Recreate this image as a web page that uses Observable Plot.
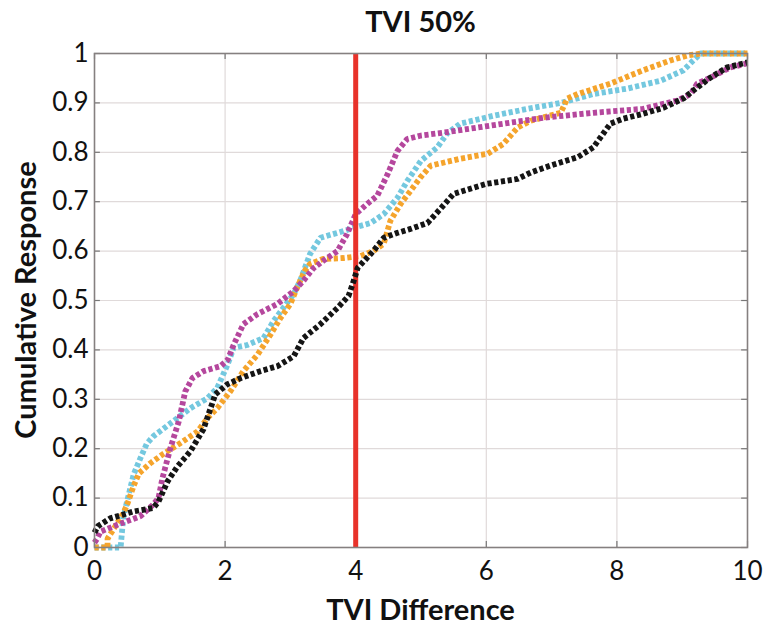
<!DOCTYPE html>
<html>
<head>
<meta charset="utf-8">
<script src="https://cdn.jsdelivr.net/npm/d3@7"></script>
<script src="https://cdn.jsdelivr.net/npm/@observablehq/plot@0.6"></script>
<style>
  html, body { margin: 0; padding: 0; background: #fff; }
  #wrap { position: relative; width: 767px; height: 628px; font-family: Lato, "Open Sans", sans-serif; }
  #title { position: absolute; left: 94px; width: 653px; top: 2px; text-align: center; font-weight: 700; font-size: 29px; line-height: 38px; color: #111; }
  #xlabel { position: absolute; left: 94px; width: 653px; top: 590px; text-align: center; font-weight: 700; font-size: 29px; line-height: 38px; color: #111; }
  #ylabel { position: absolute; left: 25px; top: 300px; transform: translate(-50%, -50%) rotate(-90deg); white-space: nowrap; font-weight: 700; font-size: 29px; line-height: 38px; color: #111; }
  #chart { position: absolute; left: 0; top: 0; }
</style>
</head>
<body>
<div id="wrap">
  <div id="chart"></div>
  <div id="title">TVI 50%</div>
  <div id="xlabel">TVI Difference</div>
  <div id="ylabel">Cumulative Response</div>
</div>
<script>
const xTicks = [0, 2, 4, 6, 8, 10];
const yTicks = [0, 0.1, 0.2, 0.3, 0.4, 0.5, 0.6, 0.7, 0.8, 0.9, 1];
const threshold = 4;

const blackX = [0, 0.05, 0.24, 0.6, 0.9, 0.98, 1.12, 1.27, 1.47, 1.67, 1.85, 2.03, 2.24, 2.54, 2.8, 3.05, 3.2, 3.46, 3.72, 3.89, 3.97, 4.03, 4.27, 4.43, 4.64, 4.84, 5.1, 5.3, 5.5, 6.0, 6.48, 6.68, 6.98, 7.4, 7.64, 7.9, 8.1, 8.4, 8.71, 9.02, 9.17, 9.43, 9.69, 10];
const blackY = [0.03, 0.043, 0.059, 0.073, 0.08, 0.093, 0.134, 0.164, 0.195, 0.24, 0.31, 0.33, 0.343, 0.357, 0.367, 0.387, 0.424, 0.452, 0.485, 0.509, 0.54, 0.566, 0.60, 0.627, 0.637, 0.645, 0.657, 0.686, 0.716, 0.736, 0.746, 0.759, 0.773, 0.79, 0.81, 0.858, 0.868, 0.878, 0.89, 0.909, 0.925, 0.951, 0.972, 0.982];

const magentaX = [0, 0.04, 0.09, 0.35, 0.7, 0.9, 0.98, 1.04, 1.16, 1.29, 1.39, 1.5, 1.67, 1.93, 2.04, 2.13, 2.28, 2.49, 2.8, 3.05, 3.2, 3.35, 3.5, 3.72, 3.87, 4.0, 4.18, 4.33, 4.49, 4.64, 4.79, 5.0, 5.35, 5.86, 6.37, 6.88, 7.64, 8.4, 8.93, 9.13, 9.23, 9.43, 9.74, 10];
const magentaY = [0.01, 0.018, 0.032, 0.046, 0.063, 0.087, 0.1, 0.14, 0.2, 0.255, 0.316, 0.343, 0.357, 0.367, 0.38, 0.41, 0.452, 0.472, 0.493, 0.519, 0.54, 0.565, 0.58, 0.6, 0.635, 0.675, 0.696, 0.712, 0.756, 0.803, 0.827, 0.834, 0.84, 0.85, 0.86, 0.87, 0.88, 0.888, 0.905, 0.918, 0.939, 0.951, 0.972, 0.98];

const cyanX = [0, 0.4, 0.42, 0.44, 0.5, 0.6, 0.7, 0.8, 0.9, 1.06, 1.27, 1.47, 1.73, 1.88, 2.04, 2.13, 2.34, 2.59, 2.74, 2.88, 3.05, 3.15, 3.3, 3.46, 3.72, 3.97, 4.23, 4.43, 4.64, 4.79, 5.0, 5.25, 5.4, 5.6, 6.11, 6.63, 7.14, 7.64, 8.16, 8.67, 9.02, 9.17, 9.28, 10];
const cyanY = [0, 0, 0.03, 0.06, 0.094, 0.148, 0.18, 0.21, 0.225, 0.241, 0.262, 0.282, 0.302, 0.323, 0.371, 0.404, 0.41, 0.424, 0.458, 0.483, 0.513, 0.54, 0.594, 0.627, 0.637, 0.647, 0.657, 0.675, 0.708, 0.742, 0.783, 0.81, 0.838, 0.858, 0.874, 0.888, 0.9, 0.918, 0.929, 0.945, 0.966, 0.986, 1, 1];

const orangeX = [0, 0.2, 0.2, 0.3, 0.44, 0.5, 0.6, 0.68, 0.85, 1.06, 1.3, 1.58, 1.73, 1.88, 2.08, 2.28, 2.5, 2.7, 2.85, 3.0, 3.08, 3.15, 3.22, 3.3, 3.5, 3.81, 4.07, 4.27, 4.43, 4.53, 4.69, 4.84, 4.99, 5.15, 5.6, 6.02, 6.26, 6.48, 6.68, 7.14, 7.24, 7.4, 7.9, 8.4, 8.82, 9.08, 9.3, 10];
const orangeY = [0, 0, 0.018, 0.039, 0.069, 0.087, 0.125, 0.15, 0.17, 0.19, 0.21, 0.235, 0.262, 0.282, 0.316, 0.357, 0.391, 0.432, 0.465, 0.493, 0.519, 0.54, 0.56, 0.574, 0.584, 0.586, 0.59, 0.6, 0.615, 0.661, 0.696, 0.722, 0.749, 0.773, 0.787, 0.797, 0.817, 0.85, 0.864, 0.88, 0.909, 0.918, 0.939, 0.966, 0.986, 0.996, 1, 1];

const series = [
  {name: "cyan", xs: cyanX, ys: cyanY, color: "#74c8df"},
  {name: "orange", xs: orangeX, ys: orangeY, color: "#f5a42c"},
  {name: "magenta", xs: magentaX, ys: magentaY, color: "#b5479d"},
  {name: "black", xs: blackX, ys: blackY, color: "#151515"}
];
const pts = s => s.xs.map((x, i) => ({x, y: s.ys[i]}));

const lineOpts = c => ({x: "x", y: "y", stroke: c, strokeWidth: 5.8, strokeDasharray: "4.2,2.6", strokeLinecap: "butt", strokeLinejoin: "miter"});

const marks = [
  Plot.ruleY(yTicks.slice(1, -1), {stroke: "#e0dada", strokeWidth: 1.2}),
  Plot.ruleX(xTicks.slice(1, -1), {stroke: "#e0dada", strokeWidth: 1.2}),
  // inward tick marks (MATLAB style)
  Plot.ruleY(yTicks, {y: d => d, x1: 0, x2: 0.09, stroke: "#777", strokeWidth: 1.2}),
  Plot.ruleY(yTicks, {y: d => d, x1: 9.91, x2: 10, stroke: "#777", strokeWidth: 1.2}),
  Plot.ruleX(xTicks, {x: d => d, y1: 0, y2: 0.012, stroke: "#777", strokeWidth: 1.2}),
  Plot.ruleX(xTicks, {x: d => d, y1: 0.988, y2: 1, stroke: "#777", strokeWidth: 1.2}),
  Plot.line(pts(series[0]), lineOpts(series[0].color)),
  Plot.line(pts(series[1]), lineOpts(series[1].color)),
  Plot.line(pts(series[2]), lineOpts(series[2].color)),
  Plot.ruleX([threshold], {stroke: "#e8322a", strokeWidth: 5}),
  Plot.line(pts(series[3]), lineOpts(series[3].color)),
  Plot.frame({stroke: "#858080", strokeWidth: 1.6}),
  Plot.axisX(xTicks, {tickSize: 0, tickPadding: 14, fontSize: 26, label: null}),
  Plot.axisY(yTicks, {tickSize: 0, tickPadding: 6, fontSize: 26, label: null,
    tickFormat: d => (d === 0 ? "0" : d === 1 ? "1" : d.toFixed(1))})
];

const chart = Plot.plot({
  width: 767,
  height: 628,
  marginLeft: 94,
  marginRight: 20,
  marginTop: 53,
  marginBottom: 81,
  x: {domain: [0, 10], label: null},
  y: {domain: [0, 1], label: null},
  style: {fontFamily: "Lato, 'Open Sans', sans-serif", color: "#111", background: "white", overflow: "visible"},
  marks
});
document.getElementById("chart").appendChild(chart);
</script>
</body>
</html>
